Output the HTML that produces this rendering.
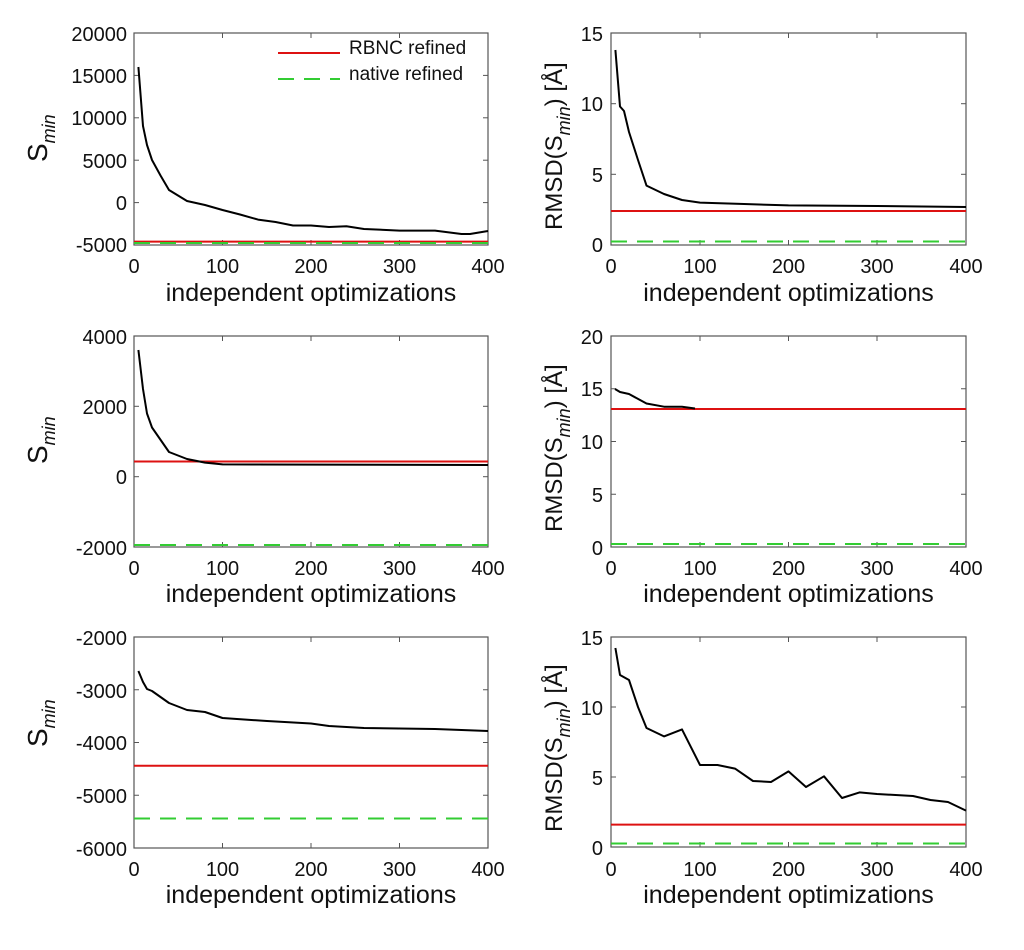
<!DOCTYPE html>
<html><head><meta charset="utf-8"><style>
html,body{margin:0;padding:0;background:#fff;}
svg{display:block;font-family:"Liberation Sans",sans-serif;}
.t{font-size:20px;fill:#111;}
.lg{font-size:19px;fill:#111;}
.xl{font-size:25px;fill:#111;}
.yl{font-size:24px;fill:#111;}
.ax{fill:none;stroke:#555;stroke-width:1.2;}
.tk{stroke:#555;stroke-width:1;}
.d{fill:none;stroke:#000;stroke-width:2;stroke-linejoin:round;}
.r{stroke:#d11;stroke-width:2;}
.g{stroke:#3c3;stroke-width:2;stroke-dasharray:16,10;}
</style></head><body>
<svg width="1024" height="950" viewBox="0 0 1024 950">
<!-- ===== Top-left ===== -->
<rect class="ax" x="134" y="33" width="354" height="212"/>
<g class="tk">
<line x1="134" y1="33" x2="139" y2="33"/><line x1="134" y1="75.4" x2="139" y2="75.4"/><line x1="134" y1="117.8" x2="139" y2="117.8"/><line x1="134" y1="160.2" x2="139" y2="160.2"/><line x1="134" y1="202.6" x2="139" y2="202.6"/>
<line x1="488" y1="75.4" x2="483" y2="75.4"/><line x1="488" y1="117.8" x2="483" y2="117.8"/><line x1="488" y1="160.2" x2="483" y2="160.2"/><line x1="488" y1="202.6" x2="483" y2="202.6"/>
<line x1="222.5" y1="245" x2="222.5" y2="240"/><line x1="311" y1="245" x2="311" y2="240"/><line x1="399.5" y1="245" x2="399.5" y2="240"/>
<line x1="222.5" y1="33" x2="222.5" y2="38"/><line x1="311" y1="33" x2="311" y2="38"/><line x1="399.5" y1="33" x2="399.5" y2="38"/>
</g>
<g class="t" text-anchor="end">
<text x="127" y="41">20000</text><text x="127" y="83">15000</text><text x="127" y="125">10000</text><text x="127" y="168">5000</text><text x="127" y="210">0</text><text x="127" y="252">-5000</text>
</g>
<g class="t" text-anchor="middle">
<text x="134" y="273">0</text><text x="222.5" y="273">100</text><text x="311" y="273">200</text><text x="399.5" y="273">300</text><text x="488" y="273">400</text>
</g>
<text class="xl" x="311" y="301" text-anchor="middle">independent optimizations</text>
<text class="yl" transform="translate(47,162) rotate(-90)"><tspan font-size="28">S</tspan><tspan font-size="18" font-style="italic" dy="8">min</tspan></text>
<line class="r" x1="134" y1="241.6" x2="488" y2="241.6"/>
<line class="g" x1="134" y1="243" x2="488" y2="243"/>
<polyline class="d" points="138.4,67 143,126 147,145 152,160 160.5,175.5 169,190 187,201 205,205 222.5,210 240,214.5 258,219.6 275.6,222 293,225.5 311,225.5 329,227 346.4,226.3 364,229 399.5,230.6 435,230.6 461.5,234 470,234 488,231"/>
<line class="r" x1="278" y1="53" x2="340" y2="53"/>
<line class="g" x1="278" y1="79" x2="340" y2="79" stroke-dasharray="14,9"/>
<text class="lg" x="349" y="54">RBNC refined</text>
<text class="lg" x="349" y="80">native refined</text>

<!-- ===== Top-right ===== -->
<rect class="ax" x="611" y="33" width="355" height="212"/>
<g class="tk">
<line x1="611" y1="103.7" x2="616" y2="103.7"/><line x1="611" y1="174.3" x2="616" y2="174.3"/>
<line x1="966" y1="103.7" x2="961" y2="103.7"/><line x1="966" y1="174.3" x2="961" y2="174.3"/>
<line x1="700" y1="245" x2="700" y2="240"/><line x1="788.5" y1="245" x2="788.5" y2="240"/><line x1="877" y1="245" x2="877" y2="240"/>
<line x1="700" y1="33" x2="700" y2="38"/><line x1="788.5" y1="33" x2="788.5" y2="38"/><line x1="877" y1="33" x2="877" y2="38"/>
</g>
<g class="t" text-anchor="end">
<text x="603" y="41">15</text><text x="603" y="111">10</text><text x="603" y="182">5</text><text x="603" y="252">0</text>
</g>
<g class="t" text-anchor="middle">
<text x="611" y="273">0</text><text x="700" y="273">100</text><text x="788.5" y="273">200</text><text x="877" y="273">300</text><text x="966" y="273">400</text>
</g>
<text class="xl" x="788.5" y="301" text-anchor="middle">independent optimizations</text>
<text class="yl" transform="translate(562,230) rotate(-90)">RMSD(S<tspan font-size="18" font-style="italic" dy="8">min</tspan><tspan dy="-8">) [Å]</tspan></text>
<line class="r" x1="611" y1="211" x2="966" y2="211"/>
<line class="g" x1="611" y1="241.5" x2="966" y2="241.5"/>
<polyline class="d" points="615.4,50 620,106.5 624,111 629,132 638,160 646.5,185.6 664,194 682,200 700,202.6 744,204 788.5,205.4 877,206 966,207"/>

<!-- ===== Middle-left ===== -->
<rect class="ax" x="134" y="336" width="354" height="211"/>
<g class="tk">
<line x1="134" y1="406.3" x2="139" y2="406.3"/><line x1="134" y1="476.7" x2="139" y2="476.7"/>
<line x1="488" y1="406.3" x2="483" y2="406.3"/><line x1="488" y1="476.7" x2="483" y2="476.7"/>
<line x1="222.5" y1="547" x2="222.5" y2="542"/><line x1="311" y1="547" x2="311" y2="542"/><line x1="399.5" y1="547" x2="399.5" y2="542"/>
<line x1="222.5" y1="336" x2="222.5" y2="341"/><line x1="311" y1="336" x2="311" y2="341"/><line x1="399.5" y1="336" x2="399.5" y2="341"/>
</g>
<g class="t" text-anchor="end">
<text x="127" y="344">4000</text><text x="127" y="414">2000</text><text x="127" y="484">0</text><text x="127" y="555">-2000</text>
</g>
<g class="t" text-anchor="middle">
<text x="134" y="575">0</text><text x="222.5" y="575">100</text><text x="311" y="575">200</text><text x="399.5" y="575">300</text><text x="488" y="575">400</text>
</g>
<text class="xl" x="311" y="602" text-anchor="middle">independent optimizations</text>
<text class="yl" transform="translate(47,464) rotate(-90)"><tspan font-size="28">S</tspan><tspan font-size="18" font-style="italic" dy="8">min</tspan></text>
<line class="r" x1="134" y1="461.5" x2="488" y2="461.5"/>
<line class="g" x1="134" y1="545" x2="488" y2="545"/>
<polyline class="d" points="138.4,350 143,389 147,413.5 152,427.5 169,452 187,459 205,462.6 222.5,464.4 488,465"/>

<!-- ===== Middle-right ===== -->
<rect class="ax" x="611" y="336" width="355" height="211"/>
<g class="tk">
<line x1="611" y1="388.75" x2="616" y2="388.75"/><line x1="611" y1="441.5" x2="616" y2="441.5"/><line x1="611" y1="494.25" x2="616" y2="494.25"/>
<line x1="966" y1="388.75" x2="961" y2="388.75"/><line x1="966" y1="441.5" x2="961" y2="441.5"/><line x1="966" y1="494.25" x2="961" y2="494.25"/>
<line x1="700" y1="547" x2="700" y2="542"/><line x1="788.5" y1="547" x2="788.5" y2="542"/><line x1="877" y1="547" x2="877" y2="542"/>
<line x1="700" y1="336" x2="700" y2="341"/><line x1="788.5" y1="336" x2="788.5" y2="341"/><line x1="877" y1="336" x2="877" y2="341"/>
</g>
<g class="t" text-anchor="end">
<text x="603" y="344">20</text><text x="603" y="396">15</text><text x="603" y="449">10</text><text x="603" y="502">5</text><text x="603" y="555">0</text>
</g>
<g class="t" text-anchor="middle">
<text x="611" y="575">0</text><text x="700" y="575">100</text><text x="788.5" y="575">200</text><text x="877" y="575">300</text><text x="966" y="575">400</text>
</g>
<text class="xl" x="788.5" y="602" text-anchor="middle">independent optimizations</text>
<text class="yl" transform="translate(562,532) rotate(-90)">RMSD(S<tspan font-size="18" font-style="italic" dy="8">min</tspan><tspan dy="-8">) [Å]</tspan></text>
<line class="r" x1="611" y1="409" x2="966" y2="409"/>
<line class="g" x1="611" y1="544" x2="966" y2="544"/>
<polyline class="d" points="615,389 620,392 629,394 646.5,403.5 664,406.7 682,406.7 695,408.5"/>

<!-- ===== Bottom-left ===== -->
<rect class="ax" x="134" y="637" width="354" height="211"/>
<g class="tk">
<line x1="134" y1="689.75" x2="139" y2="689.75"/><line x1="134" y1="742.5" x2="139" y2="742.5"/><line x1="134" y1="795.25" x2="139" y2="795.25"/>
<line x1="488" y1="689.75" x2="483" y2="689.75"/><line x1="488" y1="742.5" x2="483" y2="742.5"/><line x1="488" y1="795.25" x2="483" y2="795.25"/>
<line x1="222.5" y1="848" x2="222.5" y2="843"/><line x1="311" y1="848" x2="311" y2="843"/><line x1="399.5" y1="848" x2="399.5" y2="843"/>
<line x1="222.5" y1="637" x2="222.5" y2="642"/><line x1="311" y1="637" x2="311" y2="642"/><line x1="399.5" y1="637" x2="399.5" y2="642"/>
</g>
<g class="t" text-anchor="end">
<text x="127" y="645">-2000</text><text x="127" y="698">-3000</text><text x="127" y="750">-4000</text><text x="127" y="803">-5000</text><text x="127" y="856">-6000</text>
</g>
<g class="t" text-anchor="middle">
<text x="134" y="876">0</text><text x="222.5" y="876">100</text><text x="311" y="876">200</text><text x="399.5" y="876">300</text><text x="488" y="876">400</text>
</g>
<text class="xl" x="311" y="903" text-anchor="middle">independent optimizations</text>
<text class="yl" transform="translate(47,747) rotate(-90)"><tspan font-size="28">S</tspan><tspan font-size="18" font-style="italic" dy="8">min</tspan></text>
<line class="r" x1="134" y1="765.7" x2="488" y2="765.7"/>
<line class="g" x1="134" y1="818.5" x2="488" y2="818.5" stroke-width="1.5"/>
<polyline class="d" points="138.4,671 143,682 147,689 152,691 169,703 187,710 205,712 222.5,718 267,721 311,723.5 329,726 364,728 435,729 488,731"/>

<!-- ===== Bottom-right ===== -->
<rect class="ax" x="611" y="637" width="355" height="210"/>
<g class="tk">
<line x1="611" y1="707" x2="616" y2="707"/><line x1="611" y1="777" x2="616" y2="777"/>
<line x1="966" y1="707" x2="961" y2="707"/><line x1="966" y1="777" x2="961" y2="777"/>
<line x1="700" y1="847" x2="700" y2="842"/><line x1="788.5" y1="847" x2="788.5" y2="842"/><line x1="877" y1="847" x2="877" y2="842"/>
<line x1="700" y1="637" x2="700" y2="642"/><line x1="788.5" y1="637" x2="788.5" y2="642"/><line x1="877" y1="637" x2="877" y2="642"/>
</g>
<g class="t" text-anchor="end">
<text x="603" y="645">15</text><text x="603" y="715">10</text><text x="603" y="785">5</text><text x="603" y="855">0</text>
</g>
<g class="t" text-anchor="middle">
<text x="611" y="876">0</text><text x="700" y="876">100</text><text x="788.5" y="876">200</text><text x="877" y="876">300</text><text x="966" y="876">400</text>
</g>
<text class="xl" x="788.5" y="903" text-anchor="middle">independent optimizations</text>
<text class="yl" transform="translate(562,832) rotate(-90)">RMSD(S<tspan font-size="18" font-style="italic" dy="8">min</tspan><tspan dy="-8">) [Å]</tspan></text>
<line class="r" x1="611" y1="824.6" x2="966" y2="824.6"/>
<line class="g" x1="611" y1="843.5" x2="966" y2="843.5"/>
<polyline class="d" points="615.4,648 620,675 629,680 638,707 646.5,728 664,736.4 682,729.4 700,765 717.5,765 735,768.6 753,781 771,782 788.5,771.4 806,787 824,776.3 842,798 859.5,792.4 877,794 913,796 930.5,800 948,802 966,810.6"/>
</svg>
</body></html>
